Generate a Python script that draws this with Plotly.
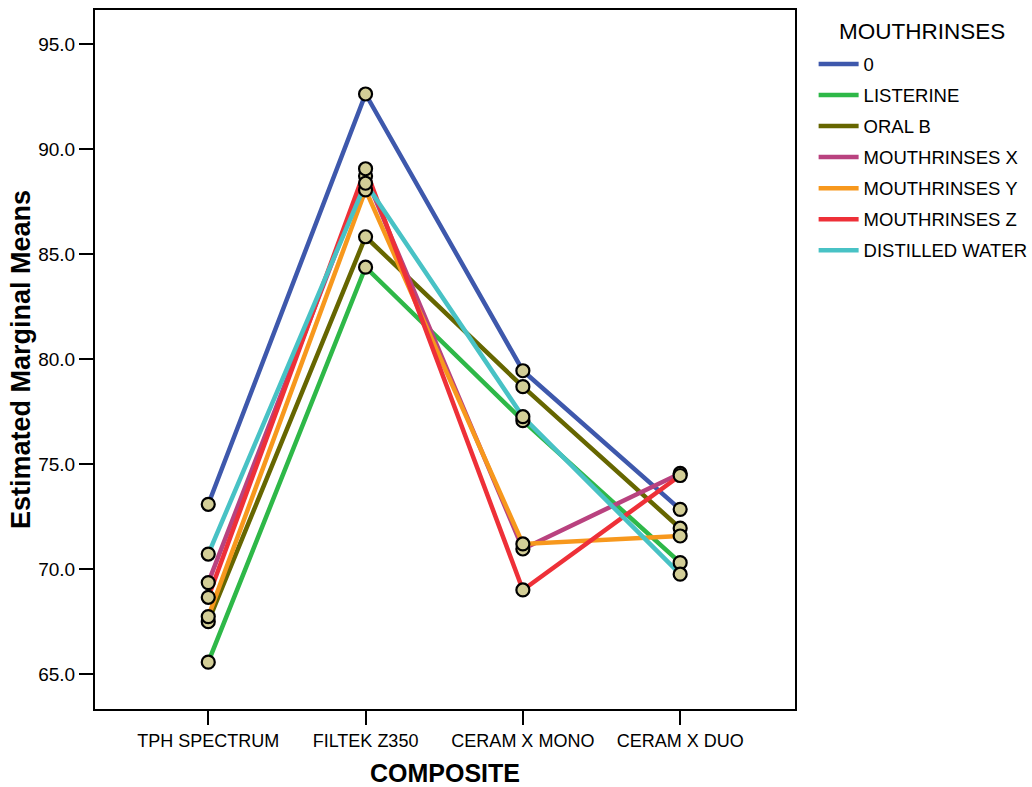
import plotly.graph_objects as go

categories = ["TPH SPECTRUM", "FILTEK Z350", "CERAM X MONO", "CERAM X DUO"]
series_names = ["0", "LISTERINE", "ORAL B", "MOUTHRINSES X", "MOUTHRINSES Y", "MOUTHRINSES Z", "DISTILLED WATER"]
v_0 = [73.08, 92.62, 79.44, 72.84]
v_listerine = [65.56, 84.37, 77.06, 70.30]
v_oralb = [67.49, 85.82, 78.68, 71.94]
v_x = [69.35, 88.71, 70.95, 74.55]
v_y = [67.73, 88.05, 71.19, 71.57]
v_z = [68.65, 89.06, 69.00, 74.45]
v_water = [70.71, 88.37, 77.25, 69.75]
series_values = [v_0, v_listerine, v_oralb, v_x, v_y, v_z, v_water]
colors = ["#3E58AC", "#2EB848", "#666600", "#B9427F", "#F7981D", "#EE3038", "#48C2C5"]
y_ticks = [65.0, 70.0, 75.0, 80.0, 85.0, 90.0, 95.0]

FONT = "Liberation Sans, Arial, sans-serif"
xs = list(range(len(categories)))

fig = go.Figure()
for name, vals, col in zip(series_names, series_values, colors):
    fig.add_trace(go.Scatter(x=xs, y=vals, mode="lines", name=name, legendgroup=name,
                             line=dict(color=col, width=4.5), showlegend=True))
for name, vals in zip(series_names, series_values):
    fig.add_trace(go.Scatter(x=xs, y=vals, mode="markers", showlegend=False,
                             marker=dict(size=13, color="#D3CE97",
                                         line=dict(color="black", width=2.2)),
                             hoverinfo="skip"))

fig.update_layout(
    width=1032, height=787,
    margin=dict(l=95, r=237, t=10, b=78, autoexpand=False),
    plot_bgcolor="white", paper_bgcolor="white",
    font=dict(family=FONT, color="black"),
    showlegend=True,
    legend=dict(x=1.0266, y=0.9493, xanchor="left", yanchor="top",
                font=dict(size=18.5, family=FONT, color="black"),
                tracegroupgap=4, itemwidth=40, bgcolor="rgba(0,0,0,0)"),
    xaxis=dict(range=[-0.72, 3.73], tickmode="array", tickvals=xs, ticktext=categories,
               automargin=False,
               showgrid=False, zeroline=False, showline=True, linecolor="black", linewidth=2,
               mirror=True, ticks="outside", ticklen=14, tickwidth=1.5, tickcolor="black",
               tickfont=dict(size=18, family=FONT),
               title=dict(text="<b>COMPOSITE</b>", font=dict(size=25, family=FONT), standoff=16)),
    yaxis=dict(range=[63.33, 96.62], tickmode="array", tickvals=y_ticks,
               ticktext=[f"{t:.1f}" for t in y_ticks],
               automargin=False,
               showgrid=False, zeroline=False, showline=True, linecolor="black", linewidth=2,
               mirror=True, ticks="outside", ticklen=14, tickwidth=1.5, tickcolor="black",
               tickfont=dict(size=19, family=FONT),
               title=dict(text="<b>Estimated Marginal Means</b>", font=dict(size=27, family=FONT), standoff=0)),
)
fig.add_annotation(text="MOUTHRINSES", xref="paper", yref="paper", x=1.0597, y=0.99,
                   xanchor="left", yanchor="top", showarrow=False,
                   font=dict(size=22.5, family=FONT, color="black"))

fig.write_html("out.html")
